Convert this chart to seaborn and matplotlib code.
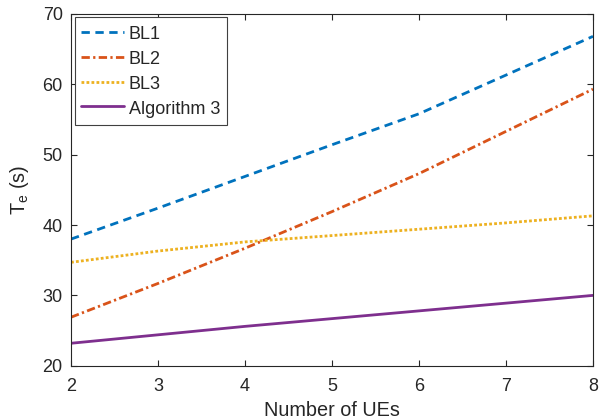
# Completion time vs number of UEs for the three baselines and Algorithm 3

import matplotlib
matplotlib.use("Agg")
import matplotlib.pyplot as plt
import seaborn as sns
import pandas as pd

# Data
num_ues = [2, 3, 4, 5, 6, 7, 8]
bl1 = [38.0, 42.4, 46.9, 51.4, 55.8, 61.3, 66.8]
bl2 = [26.9, 31.7, 36.7, 41.9, 47.3, 53.3, 59.3]
bl3 = [34.7, 36.3, 37.6, 38.5, 39.4, 40.3, 41.3]
alg3 = [23.2, 24.4, 25.6, 26.7, 27.8, 28.9, 30.0]

series_names = ["BL1", "BL2", "BL3", "Algorithm 3"]
series_values = [bl1, bl2, bl3, alg3]

# MATLAB default colour order
colors = ["#0072BD", "#D95319", "#EDB120", "#7E2F8E"]
dash_styles = [(3, 2), (3, 1.2, 0.8, 1.2), (1, 0.8), None]

data = pd.DataFrame({"Number of UEs": num_ues})
for name, vals in zip(series_names, series_values):
    data[name] = vals

sns.set_style("ticks")
plt.rcParams["font.family"] = ["Liberation Sans", "DejaVu Sans"]
plt.rcParams["mathtext.fontset"] = "custom"
plt.rcParams["mathtext.rm"] = "Liberation Sans"

fig = plt.figure(figsize=(6.02, 4.19), dpi=100)
ax = fig.add_axes([0.118, 0.127, 0.867, 0.84])

axis_col = "#262626"
for name, col, dsh in zip(series_names, colors, dash_styles):
    sns.lineplot(data=data, x="Number of UEs", y=name, ax=ax, color=col,
                 linewidth=2, label=name)
    line = ax.lines[-1]
    if dsh is not None:
        line.set_dashes(dsh)
        line.set_dash_capstyle("butt")

ax.set_xlim(2, 8)
ax.set_ylim(20, 70)
ax.set_xticks(num_ues)
ax.set_yticks([20, 30, 40, 50, 60, 70])

ax.set_xlabel("Number of UEs", fontsize=14.3, color=axis_col, labelpad=4)
ax.set_ylabel(r"T$_{\mathrm{e}}$ (s)", fontsize=14.3, color=axis_col, labelpad=8)

for side in ["top", "right", "left", "bottom"]:
    ax.spines[side].set_visible(True)
    ax.spines[side].set_color(axis_col)
    ax.spines[side].set_linewidth(0.8)
ax.tick_params(direction="in", top=True, right=True, length=4, width=0.8,
               colors=axis_col, labelsize=13)
ax.tick_params(axis="x", pad=9)
ax.tick_params(axis="y", pad=6)

leg = ax.legend(loc="upper left", fontsize=13, frameon=True, fancybox=False,
                framealpha=1, edgecolor="#404040", handlelength=2.4,
                handleheight=1.2, handletextpad=0.25, labelspacing=0.31,
                borderpad=0.36, borderaxespad=0.2)
leg.get_frame().set_linewidth(0.8)

plt.savefig("out.png", dpi=100)
